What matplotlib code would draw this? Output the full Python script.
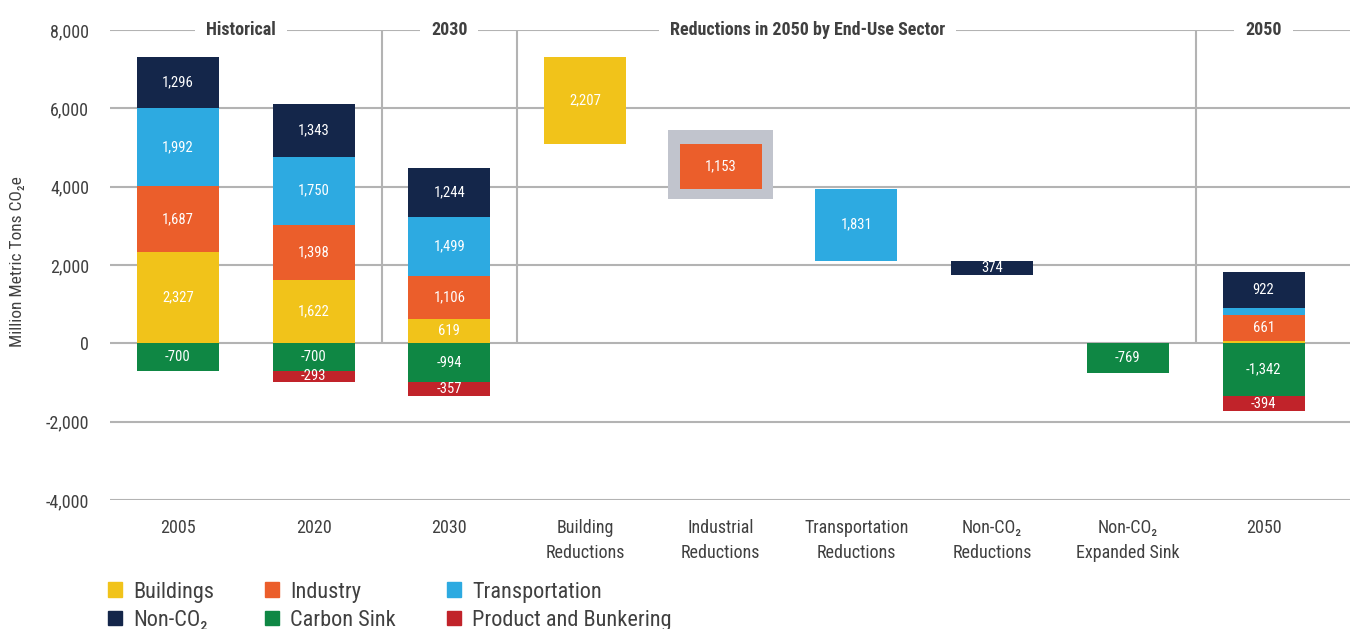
import matplotlib.pyplot as plt
import matplotlib.patches as mpatches
import numpy as np

plt.rcParams['font.family'] = ['Roboto Condensed', 'DejaVu Sans']
plt.rcParams['font.stretch'] = 'condensed'

# ---- data ----
categories = ['2005', '2020', '2030', 'Building\nReductions', 'Industrial\nReductions',
              'Transportation\nReductions', 'Non-CO\u2082\nReductions',
              'Non-CO\u2082\nExpanded Sink', '2050']

# stacked bars (2005, 2020, 2030, 2050)
stack_pos = [0, 1, 2, 8]
buildings = [2327, 1622, 619, 60]
industry = [1687, 1398, 1106, 661]
transport = [1992, 1750, 1499, 170]
non_co2 = [1296, 1343, 1244, 922]
carbon_sink = [-700, -700, -994, -1342]
product = [0, -293, -357, -394]

# waterfall reductions from the 2005 total
red_pos = [3, 4, 5, 6]
reductions = [2207, 1153, 1831, 374]
red_sector = ['Buildings', 'Industry', 'Transportation', 'Non-CO\u2082']
sink_pos = 7
sink_expansion = -769

colors = {'Buildings': '#F1C31A', 'Industry': '#EB5E2B', 'Transportation': '#2DAAE1',
          'Non-CO\u2082': '#14264A', 'Carbon Sink': '#0F8744', 'Product and Bunkering': '#C1232A'}

grid_c = '#b3b3b3'
txt_c = '#404040'
W = 0.604

fig = plt.figure(figsize=(13.5, 6.29), dpi=100)
ax = fig.add_axes([110/1350, 129/629, 1240/1350, 470/629])

ax.set_ylim(-4000, 8000)
ax.set_xlim(-0.501, 8.637)
for s in ax.spines.values():
    s.set_visible(False)
ax.set_yticks(np.arange(-4000, 8001, 2000))
ax.set_yticklabels([f'{v:,}' for v in range(-4000, 8001, 2000)])
ax.yaxis.grid(True, color=grid_c, lw=1.5)
ax.set_axisbelow(True)
ax.tick_params(axis='y', length=0, pad=15, labelsize=13, labelcolor=txt_c)
ax.set_xticks(range(len(categories)))
ax.set_xticklabels(categories, linespacing=1.5)
ax.tick_params(axis='x', length=0, pad=14, labelsize=13, labelcolor=txt_c)

# separators
ax.vlines([1.5, 2.5, 7.5], 0, 8000, color=grid_c, lw=1.5, zorder=0.5)


def label(x, bottom, h, v):
    if abs(v) >= 250:
        ax.text(x, bottom + h / 2, f'{v:,}', ha='center', va='center',
                color='white', fontsize=10.5, zorder=5)


# stacked bars
pos_b = np.zeros(4)
for name, vals in [('Buildings', buildings), ('Industry', industry),
                   ('Transportation', transport), ('Non-CO\u2082', non_co2)]:
    ax.bar(stack_pos, vals, W, bottom=pos_b, color=colors[name], zorder=3)
    for x, b, v in zip(stack_pos, pos_b, vals):
        label(x, b, v, v)
    pos_b = pos_b + np.array(vals)
neg_b = np.zeros(4)
for name, vals in [('Carbon Sink', carbon_sink), ('Product and Bunkering', product)]:
    ax.bar(stack_pos, vals, W, bottom=neg_b, color=colors[name], zorder=3)
    for x, b, v in zip(stack_pos, neg_b, vals):
        label(x, b, v, v)
    neg_b = neg_b + np.array(vals)

# waterfall
start = sum(v[0] for v in [buildings, industry, transport, non_co2])
tops = start - np.concatenate([[0], np.cumsum(reductions)[:-1]])
for x, t, r, sec in zip(red_pos, tops, reductions, red_sector):
    if sec == 'Industry':
        ax.bar(x, r + 620, W + 0.17, bottom=t - r - 260, color='#C1C4CD', zorder=2)
    ax.bar(x, r, W, bottom=t - r, color=colors[sec], zorder=3)
    label(x, t - r, r, r)
ax.bar(sink_pos, sink_expansion, W, bottom=0, color=colors['Carbon Sink'], zorder=3)
label(sink_pos, 0, sink_expansion, sink_expansion)

# section headers
for x, t in [(0.464, 'Historical'), (2.0, '2030'),
             (4.64, 'Reductions in 2050 by End-Use Sector'), (8.0, '2050')]:
    ax.text(x, 8000, t, ha='center', va='center', fontsize=13, fontweight='bold',
            color=txt_c, zorder=6,
            bbox=dict(boxstyle='square,pad=0.6', fc='white', ec='none'))

fig.text(18/1350, 1 - 262/629, 'Million Metric Tons CO\u2082e', rotation=90,
         ha='center', va='center', fontsize=12.5, color=txt_c)

order = ['Buildings', 'Non-CO\u2082', 'Industry', 'Carbon Sink',
         'Transportation', 'Product and Bunkering']
handles = [mpatches.Patch(color=colors[n], label=n) for n in order]
fig.legend(handles=handles, ncol=3, loc='lower left', bbox_to_anchor=(108/1350, -0.003),
           frameon=False, fontsize=16, handlelength=0.63, handleheight=0.63,
           handletextpad=0.5, columnspacing=2.3, labelspacing=0.33, labelcolor=txt_c,
           borderpad=0, borderaxespad=0)

fig.savefig('out.png', dpi=100)
